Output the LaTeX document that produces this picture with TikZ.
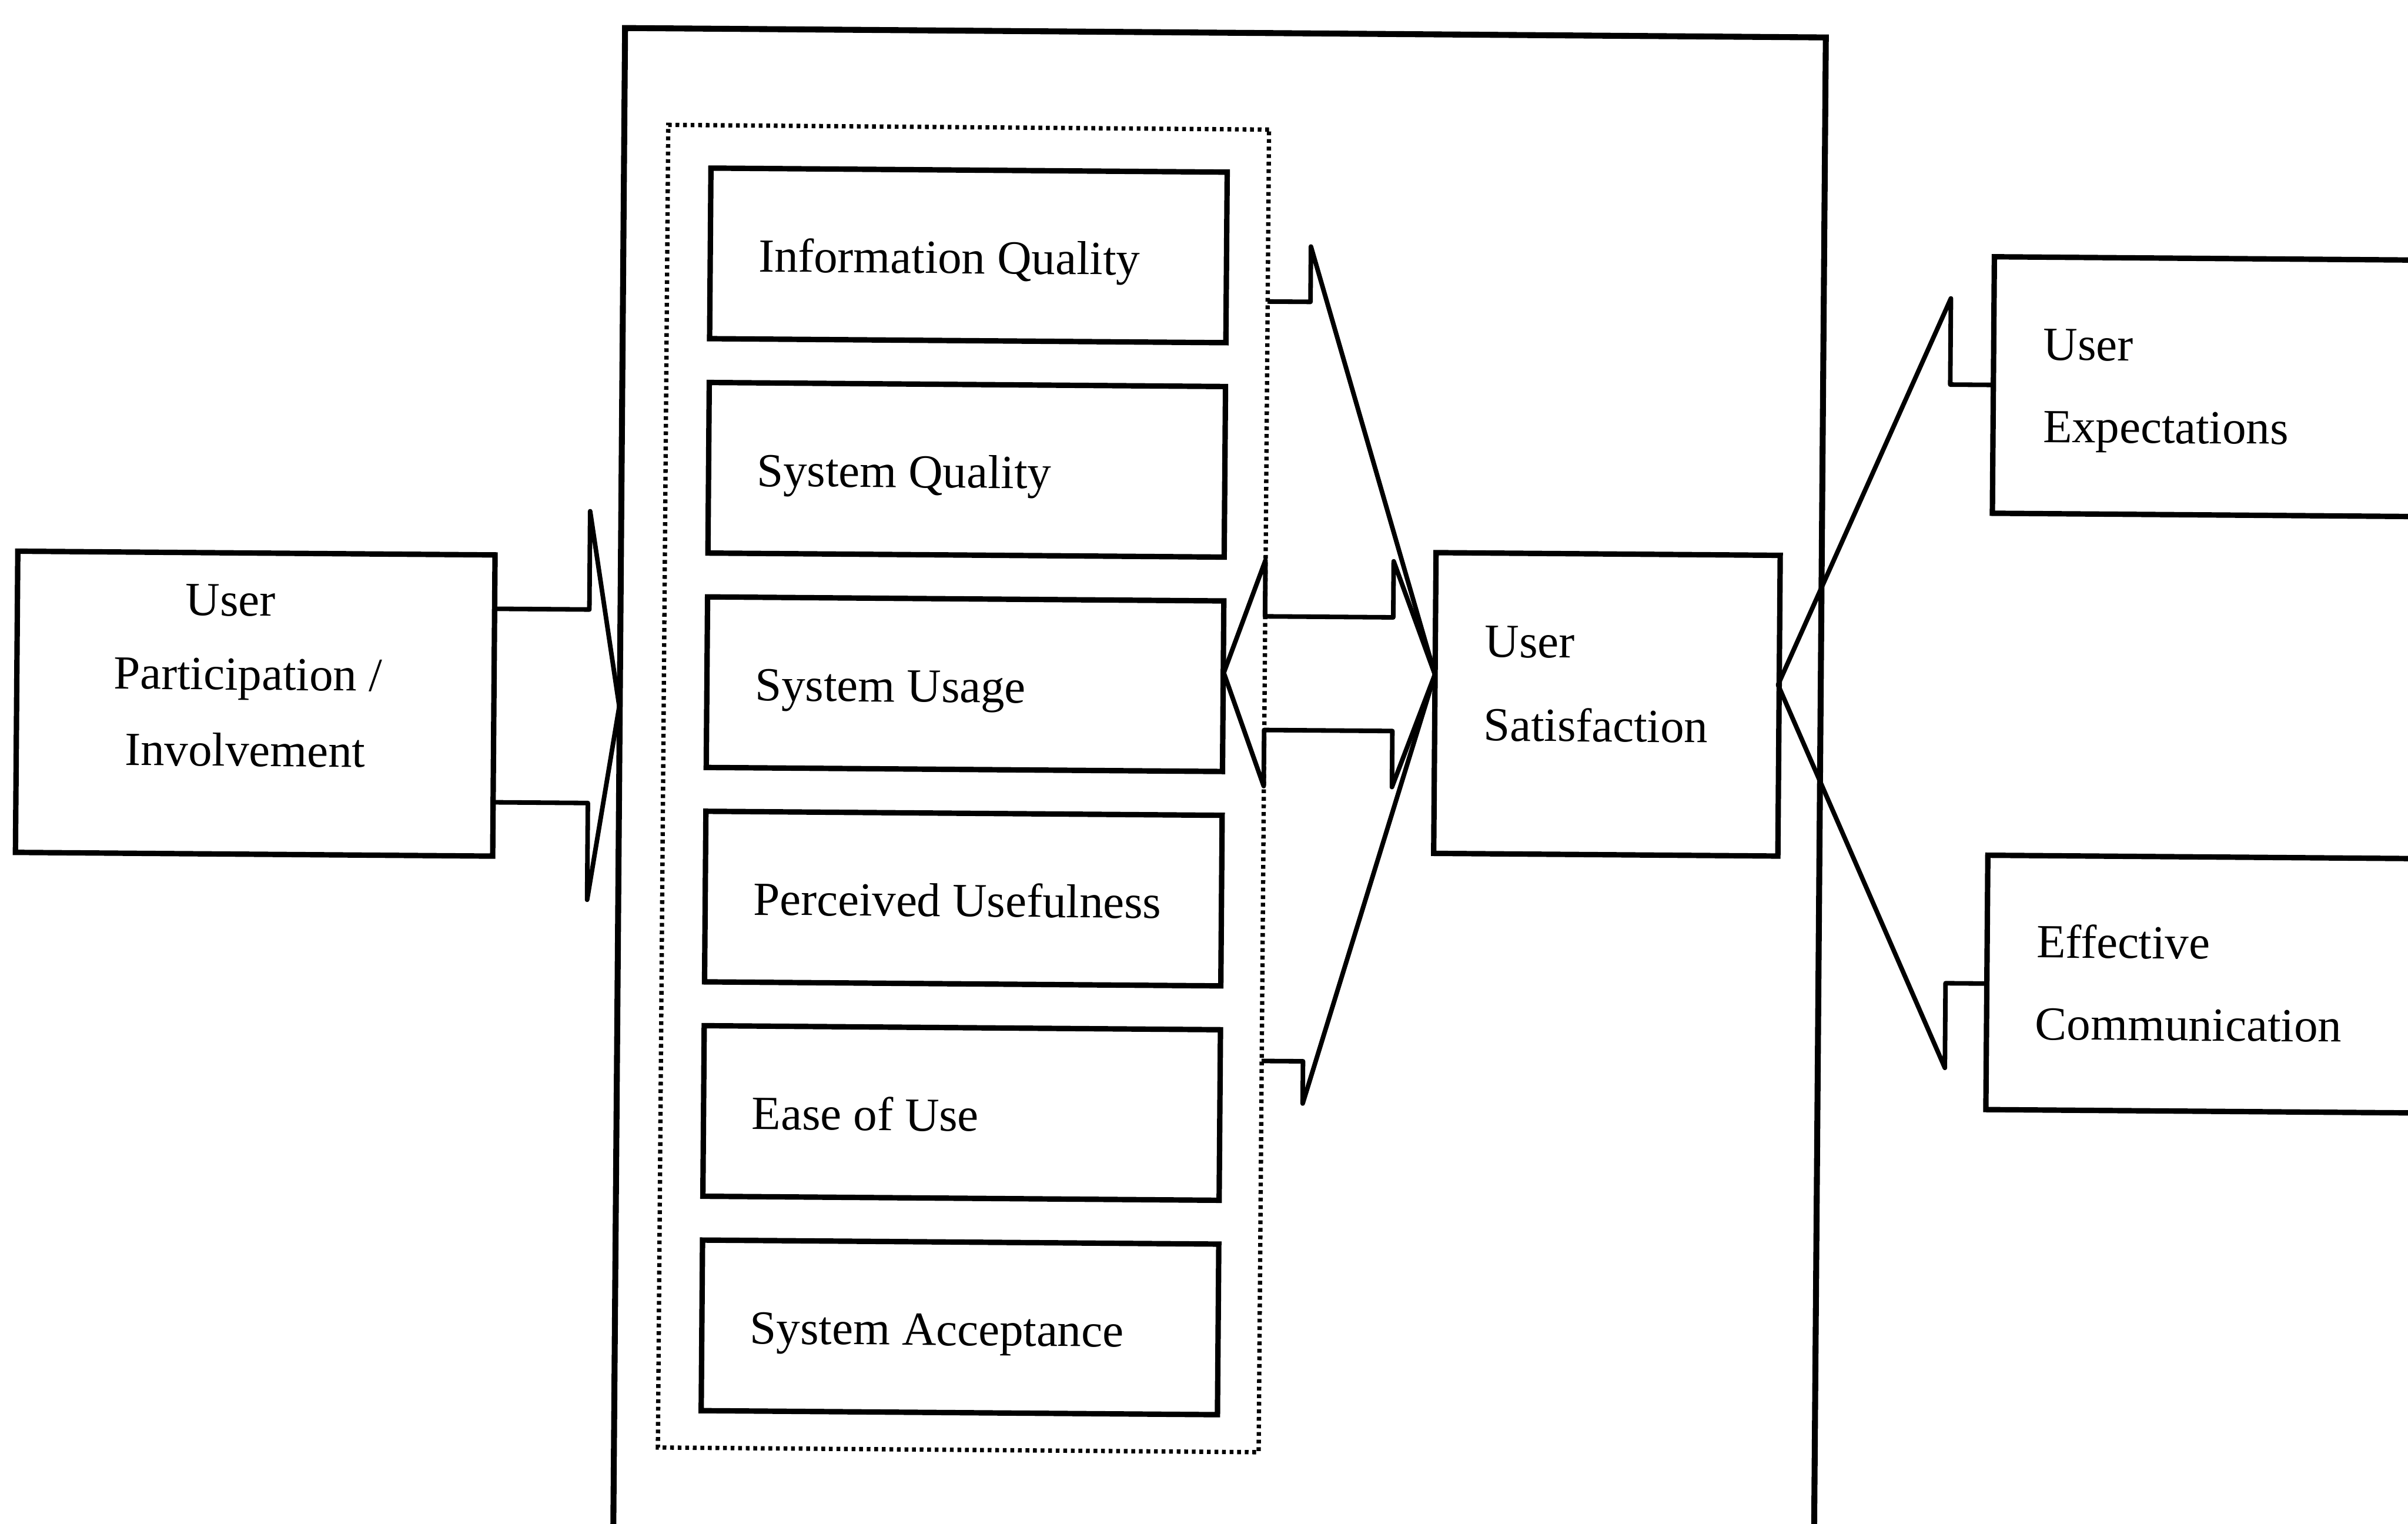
\documentclass[tikz,border=0pt]{standalone}
\usepackage{fontspec}
\setmainfont{Liberation Serif}
\usetikzlibrary{positioning}
\begin{document}
\begin{tikzpicture}[x=0.01cm, y=-0.01cm,
  box/.style={draw, line width=1pt, inner sep=0pt},
  frame/.style={draw, line width=1.1pt, inner sep=0pt},
  group/.style={draw, line width=0.8pt, dash pattern=on 0.7pt off 0.7pt, inner sep=0pt},
  blockarrow/.style={draw, line width=0.85pt, line join=round},
  lbl/.style={inner sep=0pt, font=\fontsize{8.8}{10}\selectfont},
  lw/.style={lbl, anchor=base west},
  lc/.style={lbl, anchor=base},
]
\useasboundingbox (0,0) rectangle (1568,992);
\clip (0,0) rectangle (1568,992);
\begin{scope}[rotate around={-0.45:(784,496)}, every node/.append style={transform shape}]

  % outer frame around the success measures
  \node[frame, minimum width=7.815cm, minimum height=10.085cm] (outer) at (794.25,525.75) {};

  % dotted group of success measures
  \node[group, minimum width=3.91cm, minimum height=8.607cm] (grp) at (627.5,514.65) {};

  % the six measures
  \node[box, minimum width=3.36cm, minimum height=1.11cm] (iq) at (628,167.5) {};
  \node[box, minimum width=3.36cm, minimum height=1.11cm] (sq) at (628,307.1) {};
  \node[box, minimum width=3.36cm, minimum height=1.11cm] (su) at (628,446.7) {};
  \node[box, minimum width=3.36cm, minimum height=1.11cm] (pu) at (628,586.3) {};
  \node[box, minimum width=3.36cm, minimum height=1.11cm] (eu) at (628,725.9) {};
  \node[box, minimum width=3.36cm, minimum height=1.11cm] (sa) at (628,865.5) {};

  \node[lw] (tiq) at (490.7,179.3) {Information Quality};
  \node[lw] (tsq) at (490.7,318.9) {System Quality};
  \node[lw] (tsu) at (490.7,458.5) {System Usage};
  \node[lw] (tpu) at (490.7,598.1) {Perceived Usefulness};
  \node[lw] (teu) at (490.7,737.7) {Ease of Use};
  \node[lw] (tsa) at (490.7,877.3) {System Acceptance};

  % user participation
  \node[box, minimum width=3.106cm, minimum height=1.96cm] (upi) at (165.9,463) {};
  \node[lc] (tupi1) at (149.3,406) {User};
  \node[lc] (tupi2) at (161.0,454.1) {Participation /};
  \node[lc] (tupi3) at (159.6,503.8) {Involvement};

  % user satisfaction
  \node[box, minimum width=2.24cm, minimum height=1.957cm] (us) at (1046.1,456.55) {};
  \node[lw] (tus1) at (965.7,426.4) {User};
  \node[lw] (tus2) at (965.2,480.9) {Satisfaction};

  % user expectations
  \node[box, minimum width=3.438cm, minimum height=1.669cm] (ue) at (1468.1,246.65) {};
  \node[lw] (tue1) at (1327.8,230.2) {User};
  \node[lw] (tue2) at (1328,283.7) {Expectations};

  % effective communication
  \node[box, minimum width=3.45cm, minimum height=1.655cm] (ec) at (1467.5,635.65) {};
  \node[lw] (tec1) at (1326.5,619.3) {Effective};
  \node[lw] (tec2) at (1326,672.6) {Communication};

  % arrow tips
  \coordinate (tipA) at (403,463);
  \coordinate (tipB) at (934,438);
  \coordinate (tipC) at (796.5,438);
  \coordinate (tipD) at (1157.5,443);

  % participation -> measures
  \draw[blockarrow] (321.2,400) -- (383,400) -- (383,336) -- (tipA)
        -- (383,589) -- (383,526) -- (321.2,526);

  % measures -> satisfaction
  \draw[blockarrow] (823,196) -- (851,196) -- (851,160) -- (tipB)
        -- (850,718) -- (850,690.5) -- (823,690.5);

  % usage <-> satisfaction
  \draw[blockarrow] (tipC) -- (823,364.5) -- (823,401) -- (906.5,401) -- (906.5,364.5)
        -- (tipB) -- (906.5,511.5) -- (906.5,475) -- (823,475) -- (823,511.5) -- cycle;

  % expectations / communication -> satisfaction
  \draw[blockarrow] (1296.2,246.6) -- (1268,246.6) -- (1268,190.5) -- (tipD)
        -- (1268,691.5) -- (1268,636.4) -- (1295,636.4);
\end{scope}
\end{tikzpicture}
\end{document}
